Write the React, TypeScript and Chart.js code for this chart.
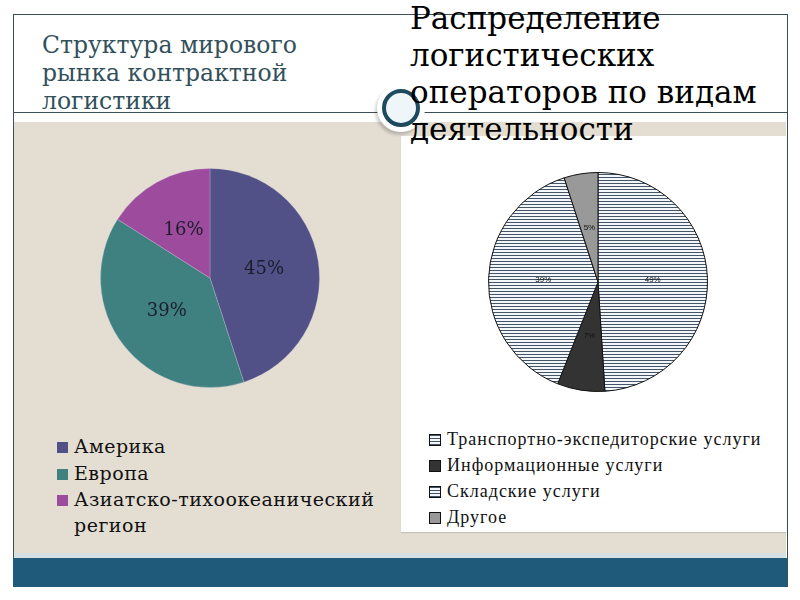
import React, { useEffect, useRef } from "react";
import { Chart, registerables } from "chart.js";

Chart.register(...registerables);

// ---- data ----
const leftTitleLines = ["Структура мирового", "рынка контрактной", "логистики"];
const regionLabels = ["Америка", "Европа", "Азиатско-тихоокеанический регион"];
const regionValues = [45, 39, 16];
const regionColors = ["#515187", "#3f8181", "#9d4b9d"];

const rightTitleLines = ["Распределение", "логистических", "операторов по видам", "деятельности"];
const activityLabels = [
  "Транспортно-экспедиторские услуги",
  "Информационные услуги",
  "Складские услуги",
  "Другое",
];
const activityValues = [49, 7, 39, 5];
const activityFills = ["hatch", "#333333", "hatch", "#999999"];

const HATCH_LINE = "#44556a";
const HATCH_GAP = "#f3f7f9";

function makeHatch(): CanvasPattern | string {
  const c = document.createElement("canvas");
  c.width = 4;
  c.height = 3;
  const g = c.getContext("2d");
  if (!g) return HATCH_LINE;
  g.fillStyle = HATCH_GAP;
  g.fillRect(0, 0, 4, 3);
  g.fillStyle = HATCH_LINE;
  g.fillRect(0, 0, 4, 1);
  return g.createPattern(c, "repeat") || HATCH_LINE;
}

const pctLabels = {
  id: "pctLabels",
  afterDatasetsDraw(chart: any, _args: any, opts: any) {
    const { ctx } = chart;
    const meta = chart.getDatasetMeta(0);
    const data = chart.data.datasets[0].data;
    ctx.save();
    ctx.font = opts.font;
    ctx.fillStyle = opts.color;
    ctx.textAlign = "center";
    ctx.textBaseline = "middle";
    meta.data.forEach((arc: any, i: number) => {
      const p = arc.tooltipPosition();
      ctx.fillText(data[i] + "%", p.x, p.y);
    });
    ctx.restore();
  },
};

type PieProps = {
  left: number;
  top: number;
  size: number;
  labels: string[];
  values: number[];
  fills: string[];
  borderColor: string;
  borderWidth: number;
  font: string;
  color: string;
};

function PieChart(props: PieProps) {
  const ref = useRef<HTMLCanvasElement>(null);
  useEffect(() => {
    if (!ref.current) return;
    const hatch = makeHatch();
    const colors = props.fills.map((f) => (f === "hatch" ? hatch : f));
    const chart = new Chart(ref.current, {
      type: "pie",
      data: {
        labels: props.labels,
        datasets: [
          {
            data: props.values,
            backgroundColor: colors as any,
            borderColor: props.borderColor,
            borderWidth: props.borderWidth,
          },
        ],
      },
      options: {
        responsive: false,
        animation: false,
        layout: { padding: 10 },
        plugins: {
          legend: { display: false },
          tooltip: { enabled: false },
          // @ts-ignore
          pctLabels: { font: props.font, color: props.color },
        },
      },
      plugins: [pctLabels as any],
    });
    return () => chart.destroy();
  }, []);
  return (
    <canvas
      ref={ref}
      width={props.size}
      height={props.size}
      style={{ position: "absolute", left: props.left, top: props.top }}
    />
  );
}

const abs = (s: React.CSSProperties): React.CSSProperties => ({ position: "absolute", ...s });

export default function App() {
  return (
    <div
      style={{
        position: "fixed",
        left: 0,
        top: 0,
        width: 800,
        height: 600,
        background: "#ffffff",
        overflow: "hidden",
        fontFamily: "'DejaVu Serif', serif",
      }}
    >
      {/* frame */}
      <div style={abs({ left: 13, top: 14, width: 773, height: 572, border: "1px solid #3b4f58", borderBottom: "none" })} />
      {/* beige body */}
      <div style={abs({ left: 14, top: 122, width: 772, height: 432, background: "#e3ddd2" })} />
      <div style={abs({ left: 14, top: 553, width: 772, height: 5, background: "#d6dfe2" })} />
      <div style={abs({ left: 13, top: 558, width: 774, height: 29, background: "#1f5a7b" })} />
      {/* divider line */}
      <div style={abs({ left: 13, top: 112, width: 774, height: 1, background: "#3b4f58" })} />
      {/* white panel on right */}
      <div style={abs({ left: 401, top: 136, width: 385, height: 396, background: "#ffffff", boxShadow: "0 1px 1px rgba(0,0,0,0.12)" })} />

      {/* circle ornament */}
      <div
        style={abs({
          left: 401 - 24,
          top: 108 - 24,
          width: 48,
          height: 48,
          borderRadius: "50%",
          background: "#ffffff",
          boxShadow: "-2px 3px 3px rgba(0,0,0,0.18)",
        })}
      />
      <div
        style={abs({
          left: 401 - 19,
          top: 108 - 19,
          width: 38,
          height: 38,
          boxSizing: "border-box",
          borderRadius: "50%",
          border: "4px solid #1e4a60",
          background: "#eef6fa",
        })}
      />

      {/* left title */}
      {leftTitleLines.map((t, i) => (
        <div
          key={t}
          style={abs({
            left: 42,
            top: 34 + i * 28,
            fontSize: 23.5,
            lineHeight: "23.5px",
            color: "#32505a",
            whiteSpace: "nowrap",
          })}
        >
          {t}
        </div>
      ))}

      {/* right title */}
      {rightTitleLines.map((t, i) => (
        <div
          key={t}
          style={abs({
            left: 410,
            top: 3 + i * 37,
            fontSize: 31,
            lineHeight: "31px",
            color: "#000000",
            whiteSpace: "nowrap",
          })}
        >
          {t}
        </div>
      ))}

      <PieChart
        left={90}
        top={158}
        size={240}
        labels={regionLabels}
        values={regionValues}
        fills={regionColors}
        borderColor="rgba(220,215,230,0.25)"
        borderWidth={1}
        font="18px 'DejaVu Serif'"
        color="#1c1c2c"
      />

      <PieChart
        left={478}
        top={162}
        size={240}
        labels={activityLabels}
        values={activityValues}
        fills={activityFills}
        borderColor="#111111"
        borderWidth={1}
        font="8px 'Liberation Sans'"
        color="#111111"
      />

      {/* left legend */}
      {regionLabels.map((l, i) => {
        const parts = i === 2 ? ["Азиатско-тихоокеанический", "регион"] : [l];
        const top = 437 + i * 26.5;
        return (
          <React.Fragment key={l}>
            <div style={abs({ left: 57, top: top + 5, width: 11, height: 11, background: regionColors[i] })} />
            {parts.map((p, j) => (
              <div
                key={p}
                style={abs({
                  left: 74,
                  top: top + j * 26,
                  fontSize: 19,
                  lineHeight: "19px",
                  color: "#111111",
                  whiteSpace: "nowrap",
                  letterSpacing: 0.5,
                })}
              >
                {p}
              </div>
            ))}
          </React.Fragment>
        );
      })}

      {/* right legend */}
      {activityLabels.map((l, i) => {
        const top = 430 + i * 26;
        const f = activityFills[i];
        const bg =
          f === "hatch"
            ? `repeating-linear-gradient(to bottom, ${HATCH_LINE} 0px, ${HATCH_LINE} 1px, ${HATCH_GAP} 1px, ${HATCH_GAP} 3px)`
            : f;
        return (
          <React.Fragment key={l}>
            <div
              style={abs({
                left: 429,
                top: top + 4,
                width: 12,
                height: 12,
                boxSizing: "border-box",
                border: "1px solid #111",
                background: bg,
              })}
            />
            <div
              style={abs({
                left: 447,
                top,
                fontFamily: "'Liberation Serif', serif",
                fontSize: 18,
                lineHeight: "18px",
                color: "#111111",
                whiteSpace: "nowrap",
                letterSpacing: 1.0,
              })}
            >
              {l}
            </div>
          </React.Fragment>
        );
      })}
    </div>
  );
}
